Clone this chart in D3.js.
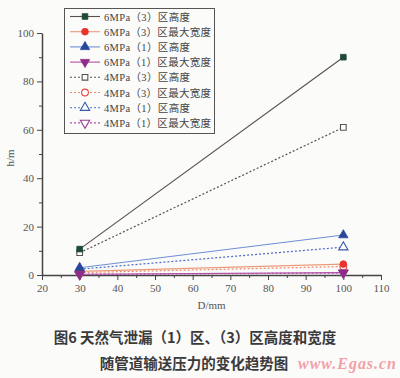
<!DOCTYPE html>
<html>
<head>
<meta charset="utf-8">
<script src="https://cdn.jsdelivr.net/npm/d3@7"></script>
<style>
  body { margin: 0; background: #fbfbfa; }
  svg { display: block; }
  .tick text { font-family: "Liberation Serif", "DejaVu Serif", serif; font-size: 11px; fill: #555; }
  .axis path, .axis line { stroke: #444; }
</style>
</head>
<body>
<div id="chart"></div>
<script>
// D values (mm)
const diameters = [30, 100];

// series names, in legend order
const seriesNames = [
  "6MPa（3）区高度", "6MPa（3）区最大宽度", "6MPa（1）区高度", "6MPa（1）区最大宽度",
  "4MPa（3）区高度", "4MPa（3）区最大宽度", "4MPa（1）区高度", "4MPa（1）区最大宽度"
];

// h/m values, one per diameter
const h6Zone3 = [10.7, 90];
const w6Zone3 = [1.5, 4.5];
const h6Zone1 = [3.0, 16.5];
const w6Zone1 = [0.3, 1.0];
const h4Zone3 = [9.2, 61];
const w4Zone3 = [1.0, 3.5];
const h4Zone1 = [2.4, 11.5];
const w4Zone1 = [0.2, 0.8];

const xTicks = [20, 30, 40, 50, 60, 70, 80, 90, 100, 110];
const yTicks = [0, 20, 40, 60, 80, 100];

// styles for each series
const styles = [
  {line: "#5b4f4c", mark: "#1d4a34", shape: d3.symbolSquare, fill: true, dash: null},
  {line: "#eb9a78", mark: "#e8342c", shape: d3.symbolCircle, fill: true, dash: null},
  {line: "#6f8fd6", mark: "#28479c", shape: d3.symbolTriangle, fill: true, dash: null},
  {line: "#b24fa6", mark: "#8e2c88", shape: "down", fill: true, dash: null},
  {line: "#5b4f4c", mark: "#555", shape: d3.symbolSquare, fill: false, dash: "2,2"},
  {line: "#eb8a68", mark: "#e8443c", shape: d3.symbolCircle, fill: false, dash: "2,2"},
  {line: "#4f6fc6", mark: "#3a5aac", shape: d3.symbolTriangle, fill: false, dash: "2,2"},
  {line: "#b24fa6", mark: "#9a3c94", shape: "down", fill: false, dash: "2,2"}
];

const allValues = [h6Zone3, w6Zone3, h6Zone1, w6Zone1, h4Zone3, w4Zone3, h4Zone1, w4Zone1];
const series = seriesNames.map((name, i) => ({
  name,
  style: styles[i],
  points: diameters.map((d, j) => ({x: d, y: allValues[i][j]}))
}));

const width = 400, height = 378;
const svg = d3.select("#chart").append("svg")
  .attr("width", width).attr("height", height);

const xScale = d3.scaleLinear().domain([20, 110]).range([42, 381]);
const yScale = d3.scaleLinear().domain([0, 100]).range([275, 33]);

// axes with minor ticks
const xMinor = d3.range(25, 110, 10);
const yMinor = d3.range(10, 100, 20);

svg.append("g").attr("class", "axis")
  .attr("transform", `translate(0, ${yScale(0)})`)
  .call(d3.axisBottom(xScale).tickValues(xMinor).tickSize(3).tickFormat(""))
  .call(g => g.select(".domain").remove());
svg.append("g").attr("class", "axis")
  .attr("transform", `translate(0, ${yScale(0)})`)
  .call(d3.axisBottom(xScale).tickValues(xTicks).tickSize(5).tickSizeOuter(0).tickPadding(4))
  .call(g => g.select(".domain").attr("stroke-width", 1.5));

svg.append("g").attr("class", "axis")
  .attr("transform", `translate(${xScale(20)}, 0)`)
  .call(d3.axisLeft(yScale).tickValues(yMinor).tickSize(3).tickFormat(""))
  .call(g => g.select(".domain").remove());
svg.append("g").attr("class", "axis")
  .attr("transform", `translate(${xScale(20)}, 0)`)
  .call(d3.axisLeft(yScale).tickValues(yTicks).tickSize(5).tickSizeOuter(0).tickPadding(3))
  .call(g => g.select(".domain").attr("stroke-width", 1.5));

// axis labels
svg.append("text")
  .attr("transform", `translate(14, ${yScale(50) + 4}) rotate(-90)`)
  .attr("text-anchor", "middle")
  .attr("font-family", "Liberation Serif, serif").attr("font-size", 11).attr("fill", "#555")
  .text("h/m");
svg.append("text")
  .attr("x", xScale(65)).attr("y", 309)
  .attr("text-anchor", "middle")
  .attr("font-family", "Liberation Serif, serif").attr("font-size", 11).attr("fill", "#555")
  .text("D/mm");

const symbolPath = (shape, size) => {
  if (shape === "down") return d3.symbol(d3.symbolTriangle, size)();
  return d3.symbol(shape, size)();
};

const line = d3.line().x(d => xScale(d.x)).y(d => yScale(d.y));

// draw lines first, then markers (dotted series below solid ones)
const order = [4, 5, 6, 7, 0, 1, 2, 3];
order.forEach(i => {
  const s = series[i];
  svg.append("path")
    .datum(s.points)
    .attr("d", line)
    .attr("fill", "none")
    .attr("stroke", s.style.line)
    .attr("stroke-width", s.style.dash ? 1.2 : 1.1)
    .attr("stroke-dasharray", s.style.dash);
});

const drawMarker = (g, s, x, y) => {
  const size = s.style.shape === d3.symbolCircle ? 36 : (s.style.shape === d3.symbolSquare ? 32 : 38);
  g.append("path")
    .attr("d", symbolPath(s.style.shape, size))
    .attr("transform", `translate(${x}, ${y})` + (s.style.shape === "down" ? " rotate(180)" : ""))
    .attr("fill", s.style.fill ? s.style.mark : "#fff")
    .attr("stroke", s.style.mark)
    .attr("stroke-width", s.style.fill ? 0.8 : 1.1);
};

order.forEach(i => {
  const s = series[i];
  s.points.forEach(p => drawMarker(svg, s, xScale(p.x), yScale(p.y)));
});

// legend
const legend = svg.append("g");
legend.append("rect")
  .attr("x", 64.5).attr("y", 8.5).attr("width", 150).attr("height", 125)
  .attr("fill", "none").attr("stroke", "#555").attr("stroke-width", 1);

series.forEach((s, i) => {
  const y = 16.5 + i * 15.2;
  legend.append("line")
    .attr("x1", 70).attr("x2", 100).attr("y1", y).attr("y2", y)
    .attr("stroke", s.style.line).attr("stroke-width", 1.1)
    .attr("stroke-dasharray", s.style.dash);
  drawMarker(legend, s, 85, y);
  legend.append("text")
    .attr("x", 104).attr("y", y + 4)
    .attr("font-family", "Liberation Serif, Noto Sans CJK SC, serif")
    .attr("font-size", 10.5).attr("fill", "#444")
    .attr("textLength", i % 2 === 0 ? 86 : 107)
    .text(s.name);
});

// caption
svg.append("text")
  .attr("x", 195).attr("y", 343)
  .attr("text-anchor", "middle")
  .attr("font-family", "Noto Sans CJK SC, sans-serif").attr("font-weight", "bold")
  .attr("font-size", 14.5).attr("fill", "#3a3a3a")
  .text("图6  天然气泄漏（1）区、（3）区高度和宽度");
svg.append("text")
  .attr("x", 194).attr("y", 369)
  .attr("text-anchor", "middle")
  .attr("font-family", "Noto Sans CJK SC, sans-serif").attr("font-weight", "bold")
  .attr("font-size", 14.5).attr("fill", "#3a3a3a")
  .text("随管道输送压力的变化趋势图");
svg.append("text")
  .attr("x", 347).attr("y", 369)
  .attr("text-anchor", "middle")
  .attr("font-family", "Liberation Serif, serif").attr("font-style", "italic").attr("font-weight", "bold")
  .attr("font-size", 16).attr("fill", "#f3a0a8")
  .attr("textLength", 98)
  .text("www.Egas.cn");
</script>
</body>
</html>
